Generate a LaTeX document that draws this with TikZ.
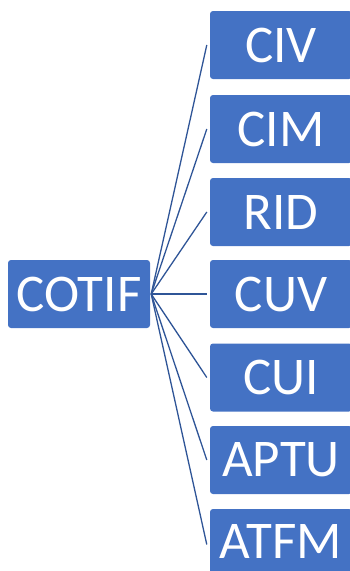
\documentclass[tikz,border=0pt]{standalone}
\usepackage{fontspec}
\setmainfont{Carlito}
\definecolor{boxblue}{HTML}{4472C4}
\definecolor{linkblue}{HTML}{2F5597}
\begin{document}
\begin{tikzpicture}[x=1pt,y=-1pt,
  box/.style={fill=boxblue,rounded corners=3pt,text=white,inner sep=0pt,
    font=\fontsize{53}{53}\selectfont,anchor=center,minimum width=142pt,minimum height=68pt},
  link/.style={draw=linkblue,line width=1.3pt}]
\useasboundingbox (0,0) rectangle (350,571);
\begin{scope}
\clip (0,0) rectangle (350,571);
\node[box] (cotif) at (79,294) {COTIF};
\foreach \n/\t/\y in {civ/CIV/45,cim/CIM/129,rid/RID/212,cuv/CUV/294,cui/CUI/377.5,aptu/APTU/460}{
  \node[box] (\n) at (281,\y) {\t};
}
\node[box,minimum height=65pt] (atfm) at (281,541.5) {ATFM};
\foreach \n in {civ,cim,rid,cuv,cui,aptu}{
  \draw[link] ([xshift=1pt]cotif.east) -- ([xshift=-3pt]\n.west);
}
\draw[link] ([xshift=1pt]cotif.east) -- ([xshift=-3pt,yshift=-3pt]atfm.west);
\end{scope}
\end{tikzpicture}
\end{document}
